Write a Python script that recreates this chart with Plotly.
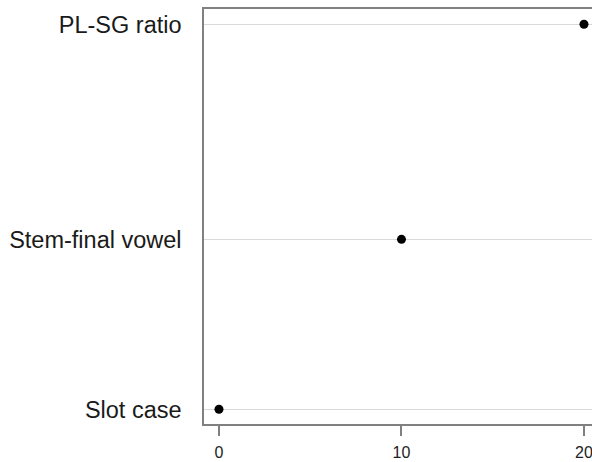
import plotly.graph_objects as go

categories = ["Slot case", "Stem-final vowel", "PL-SG ratio"]
values = [0, 10, 20]
row_pos = [1.0, 2.0, 3.265]
x_ticks = [0, 10, 20]

fig = go.Figure()
fig.add_trace(go.Scatter(
    x=values, y=row_pos, mode="markers",
    marker=dict(color="black", size=9),
    showlegend=False, hoverinfo="skip", cliponaxis=False))

font = "Liberation Sans, Arial, sans-serif"
fig.update_layout(
    width=592, height=462,
    margin=dict(l=204, r=0, t=9, b=38),
    paper_bgcolor="white", plot_bgcolor="white",
    font=dict(family=font, color="#1a1a1a"),
)
fig.update_xaxes(
    range=[-0.82, 20.44], tickvals=x_ticks, ticktext=[str(v) for v in x_ticks],
    showgrid=False, zeroline=False,
    showline=True, linecolor="#808080", linewidth=1.5, mirror=True,
    ticks="outside", ticklen=10, tickcolor="#808080", tickwidth=1.5,
    tickfont=dict(size=16, color="#222"),
    ticklabeloverflow="allow", ticklabelstandoff=3,
)
fig.update_yaxes(
    range=[0.9135, 3.355], tickvals=row_pos, ticktext=categories,
    showgrid=True, gridcolor="#d9d9d9", gridwidth=1, zeroline=False,
    showline=True, linecolor="#808080", linewidth=1.5, mirror=False,
    ticks="", ticklabelstandoff=16,
    tickfont=dict(size=23.5, color="#1a1a1a"),
)
fig.write_html("out.html")
